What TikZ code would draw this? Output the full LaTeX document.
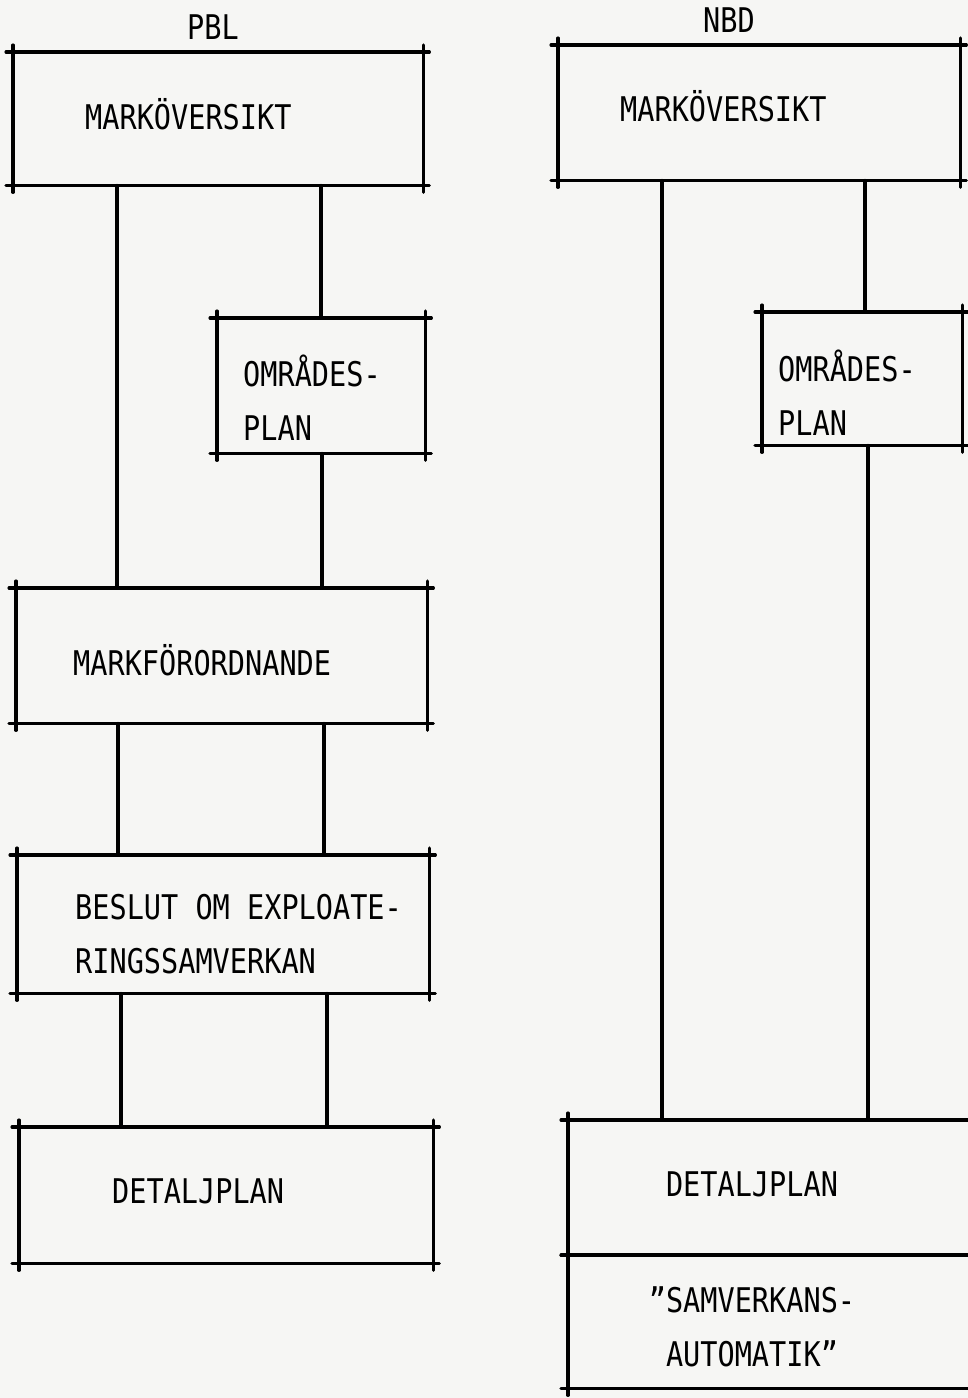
\documentclass[tikz,border=0pt]{standalone}
\usepackage{fontspec}
\setmainfont[FakeStretch=0.84]{DejaVu Sans Mono}
\usepackage{tikz}
\usetikzlibrary{positioning, calc}
\definecolor{paper}{RGB}{246, 246, 244}

\tikzset{
  planbox/.style={inner sep=0pt, anchor=north west},
  txt/.style={inner sep=0pt, align=left, font=\fontsize{34}{54}\selectfont},
  ink/.style={line width=3.1pt, line cap=round},
}

% frame with the corner lines running a little past each other
\newcommand{\planframe}[1]{%
  \draw[ink] ([xshift=-7pt]#1.north west) -- ([xshift=6pt]#1.north east);
  \draw[ink] ([xshift=-7pt]#1.south west) -- ([xshift=6pt]#1.south east);
  \draw[ink] ([yshift=7pt]#1.north west) -- ([yshift=-7pt]#1.south west);
  \draw[ink] ([yshift=7pt]#1.north east) -- ([yshift=-7pt]#1.south east);
}

\begin{document}
\begin{tikzpicture}[x=1pt, y=-1pt]
  \useasboundingbox[fill=paper] (0,0) rectangle (968,1398);

  % PBL
  \node[txt] (pbl) at (213,27) {PBL};
  \node[planbox, minimum width=410pt, minimum height=133pt,
        label={[txt, anchor=west, xshift=72pt, yshift=4.5pt]west:MARKÖVERSIKT}] (A) at (13,52) {};
  \node[planbox, minimum width=208pt, minimum height=135pt,
        label={[txt, anchor=west, xshift=26pt, yshift=-12pt]west:OMRÅDES-\\PLAN}] (B) at (217,318) {};
  \node[planbox, minimum width=411pt, minimum height=135pt,
        label={[txt, anchor=west, xshift=57pt, yshift=-4.5pt]west:MARKFÖRORDNANDE}] (C) at (16,588) {};
  \node[planbox, minimum width=412pt, minimum height=138pt,
        label={[txt, anchor=west, xshift=58pt, yshift=-10pt]west:BESLUT OM EXPLOATE-\\RINGSSAMVERKAN}] (D) at (17,855) {};
  \node[planbox, minimum width=414pt, minimum height=136pt,
        label={[txt, anchor=west, xshift=93pt, yshift=4pt]west:DETALJPLAN}] (E) at (19,1127) {};

  % NBD
  \node[txt] (nbd) at (729,20) {NBD};
  \node[planbox, minimum width=402pt, minimum height=135pt,
        label={[txt, anchor=west, xshift=62pt, yshift=6.5pt]west:MARKÖVERSIKT}] (F) at (558,45) {};
  \node[planbox, minimum width=200pt, minimum height=133pt,
        label={[txt, anchor=west, xshift=16pt, yshift=-14pt]west:OMRÅDES-\\PLAN}] (H) at (762,312) {};
  \node[planbox, minimum width=422pt, minimum height=135pt,
        label={[txt, anchor=center, xshift=184pt, yshift=3.5pt]west:DETALJPLAN}] (G) at (568,1120) {};
  \node[planbox, minimum width=422pt, minimum height=133pt,
        label={[txt, align=center, anchor=center, xshift=184pt, yshift=-5.5pt]west:"SAMVERKANS-\\AUTOMATIK"}] (I) at (568,1255) {};

  \foreach \b in {A, B, C, D, E, F, H, G, I} {\planframe{\b}}

  % connectors
  \coordinate (a1) at ([xshift=104pt]A.south west);
  \coordinate (a2) at ([xshift=308pt]A.south west);
  \coordinate (b1) at ([xshift=105pt]B.south west);
  \coordinate (c1) at ([xshift=102pt]C.south west);
  \coordinate (c2) at ([xshift=308pt]C.south west);
  \coordinate (d1) at ([xshift=104pt]D.south west);
  \coordinate (d2) at ([xshift=310pt]D.south west);
  \coordinate (f1) at ([xshift=104pt]F.south west);
  \coordinate (f2) at ([xshift=307pt]F.south west);
  \coordinate (h1) at ([xshift=106pt]H.south west);

  \draw[ink] (a1) -- (a1 |- C.north);
  \draw[ink] (a2) -- (a2 |- B.north);
  \draw[ink] (b1) -- (b1 |- C.north);
  \draw[ink] (c1) -- (c1 |- D.north);
  \draw[ink] (c2) -- (c2 |- D.north);
  \draw[ink] (d1) -- (d1 |- E.north);
  \draw[ink] (d2) -- (d2 |- E.north);
  \draw[ink] (f1) -- (f1 |- G.north);
  \draw[ink] (f2) -- (f2 |- H.north);
  \draw[ink] (h1) -- (h1 |- G.north);
\end{tikzpicture}
\end{document}
